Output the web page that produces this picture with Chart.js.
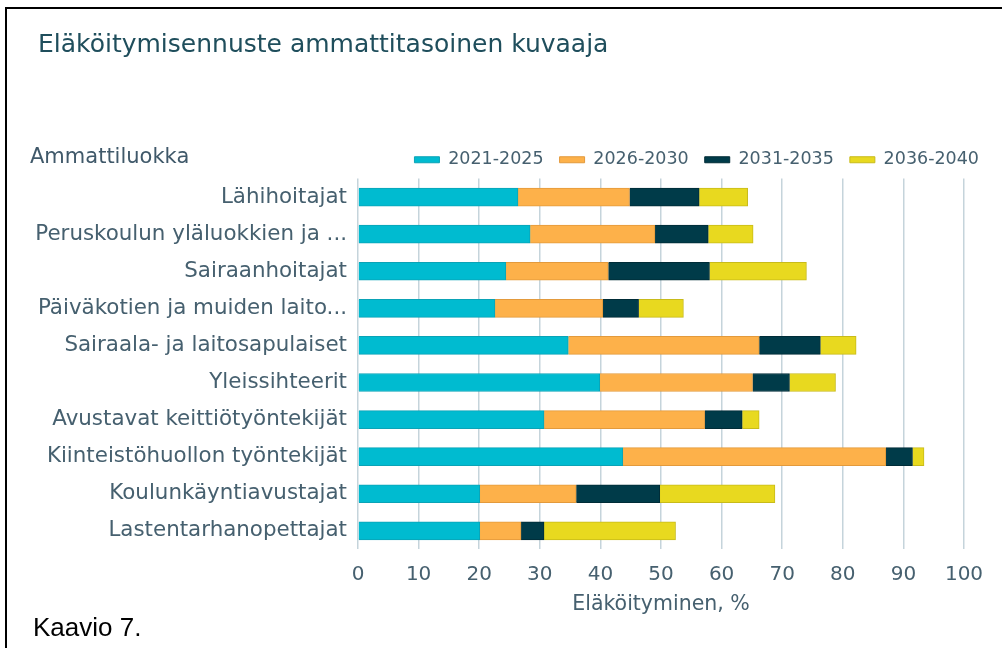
<!DOCTYPE html>
<html>
<head>
<meta charset="utf-8">
<script src="https://cdn.jsdelivr.net/npm/chart.js"></script>
<style>
  body { margin: 0; background: #fff; }
  #wrap { position: relative; width: 1002px; height: 648px; overflow: hidden; }
  #frame { position: absolute; left: 5px; top: 7px; width: 1100px; height: 700px;
           border-left: 2px solid #000; border-top: 2px solid #000; }
  #title { position: absolute; left: 38px; top: 29px; font: 25px "DejaVu Sans"; color: #1f4e5c; white-space: nowrap; }
  #ylab { position: absolute; left: 30px; top: 144px; font: 21px "DejaVu Sans"; color: #40596a; }
  #caption { position: absolute; left: 33px; top: 612px; font: 26px "Liberation Sans"; color: #000; }
  #chartBox { position: absolute; left: 0; top: 0; width: 1002px; height: 648px; }
</style>
</head>
<body>
<div id="wrap">
  <div id="frame"></div>
  <div id="chartBox"><canvas id="ElakeChart"></canvas></div>
  <div id="title">Eläköitymisennuste ammattitasoinen kuvaaja</div>
  <div id="ylab">Ammattiluokka</div>
  <div id="caption">Kaavio 7.</div>
</div>
<script>
// ammattiluokat
var categories = [
  "Lähihoitajat",
  "Peruskoulun yläluokkien ja ...",
  "Sairaanhoitajat",
  "Päiväkotien ja muiden laito...",
  "Sairaala- ja laitosapulaiset",
  "Yleissihteerit",
  "Avustavat keittiötyöntekijät",
  "Kiinteistöhuollon työntekijät",
  "Koulunkäyntiavustajat",
  "Lastentarhanopettajat"
];

var periods = ["2021-2025", "2026-2030", "2031-2035", "2036-2040"];

// eläköityminen % per jakso
var v2021 = [26.4, 28.4, 24.4, 22.6, 34.7, 39.9, 30.7, 43.7, 20.1, 20.1];
var v2026 = [18.4, 20.6, 16.9, 17.8, 31.5, 25.2, 26.5, 43.4, 15.9, 6.8];
var v2031 = [11.5, 8.8, 16.7, 5.9, 10.1, 6.1, 6.2, 4.4, 13.8, 3.8];
var v2036 = [8.0, 7.4, 16.0, 7.4, 5.9, 7.6, 2.8, 1.9, 19.0, 21.7];

var xTicks = [0, 10, 20, 30, 40, 50, 60, 70, 80, 90, 100];

var fills = ["#00bbd0", "#fdb14a", "#003b49", "#e8d91f"];
var edges = ["#0aa3b6", "#e39a3c", "#002c37", "#c8bb1a"];

var allValues = [v2021, v2026, v2031, v2036];
var datasets = periods.map(function (p, i) {
  return {
    label: p,
    data: allValues[i],
    yAxisID: "y",
    backgroundColor: fills[i],
    borderColor: edges[i],
    borderWidth: 1,
    barThickness: 18
  };
});

var labelColor = "#46606f";

new Chart(document.getElementById("ElakeChart"), {
  type: "bar",
  data: { labels: categories, datasets: datasets },
  options: {
    indexAxis: "y",
    responsive: true,
    maintainAspectRatio: false,
    animation: false,
    layout: { padding: { top: 135, right: 7, bottom: 26, left: 0 } },
    plugins: {
      tooltip: { enabled: false },
      legend: {
        position: "top",
        align: "end",
        labels: {
          boxWidth: 25,
          boxHeight: 6,
          padding: 16,
          color: labelColor,
          font: { family: "DejaVu Sans", size: 17.5 }
        }
      }
    },
    scales: {
      x: {
        stacked: true,
        min: 0,
        max: 100,
        afterBuildTicks: function (scale) {
          scale.ticks = xTicks.map(function (v) { return { value: v }; });
        },
        grid: { color: "#c5d4db", lineWidth: 1.5, drawTicks: false },
        border: { display: false },
        ticks: { color: labelColor, padding: 13, font: { family: "DejaVu Sans", size: 20 } },
        title: {
          display: true,
          text: "Eläköityminen, %",
          color: labelColor,
          padding: { top: -7, bottom: 5 },
          font: { family: "DejaVu Sans", size: 20.5 }
        }
      },
      y: {
        stacked: true,
        afterFit: function (scale) { scale.width = 358; },
        grid: { display: false, drawTicks: false },
        border: { display: false },
        ticks: { color: labelColor, padding: 11, autoSkip: false, font: { family: "DejaVu Sans", size: 21.4 } }
      },
      // tyhjä oikea reuna, jotta selite ulottuu pidemmälle kuin kuvaaja
      yRight: {
        type: "category",
        position: "right",
        afterFit: function (scale) { scale.width = 31; },
        grid: { display: false, drawTicks: false },
        border: { display: false },
        ticks: { display: false }
      }
    }
  }
});
</script>
</body>
</html>
